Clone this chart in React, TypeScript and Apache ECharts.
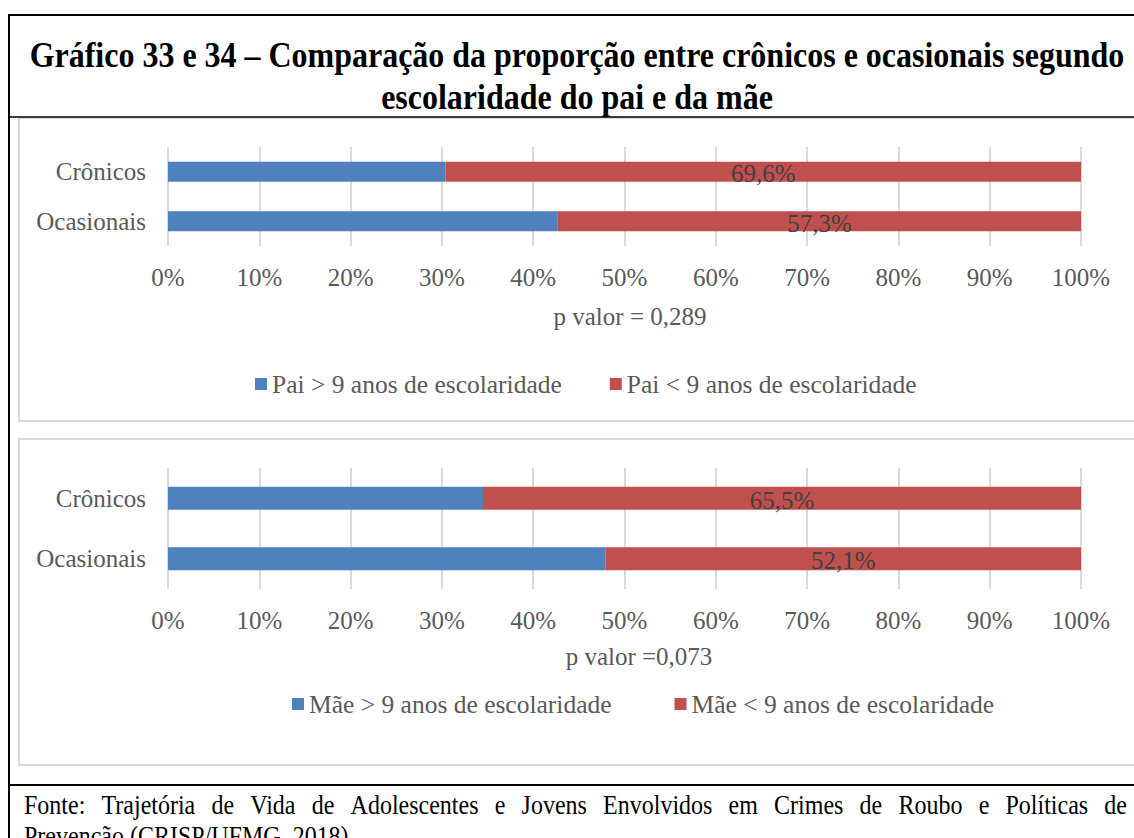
import React, { useEffect, useRef } from "react";
import * as echarts from "echarts";

const categories = ["Crônicos", "Ocasionais"];
const paiAbove = [30.4, 42.7];
const paiBelow = [69.6, 57.3];
const maeAbove = [34.5, 47.9];
const maeBelow = [65.5, 52.1];
const seriesNames = [
  "Pai > 9 anos de escolaridade",
  "Pai < 9 anos de escolaridade",
  "Mãe > 9 anos de escolaridade",
  "Mãe < 9 anos de escolaridade",
];
const titleLines = [
  "Gráfico 33 e 34 – Comparação da proporção entre crônicos e ocasionais segundo",
  "escolaridade do pai e da mãe",
];
const pValues = ["p valor = 0,289", "p valor =0,073"];
const footerLines = [
  "Fonte: Trajetória de Vida de Adolescentes e Jovens Envolvidos em Crimes de Roubo e Políticas de",
  "Prevenção (CRISP/UFMG, 2018).",
];

const BLUE = "#4F81BD";
const RED = "#C0504D";
const TXT = "#595959";
const SERIF = "'Liberation Serif', 'Times New Roman', serif";
const CHART_FONT = "'Liberation Serif', serif";
const CF = 25;
const STRETCH = 1.15;

function measure(text: string, font: string): number {
  const ctx = document.createElement("canvas").getContext("2d")!;
  ctx.font = font;
  return ctx.measureText(text).width;
}

export default function App() {
  const ref = useRef<HTMLDivElement>(null);
  useEffect(() => {
    if (!ref.current) return;
    const chart = echarts.init(ref.current, undefined, { renderer: "svg" });

    const titleTarget = 1095;
    const tw = measure(titleLines[0], `bold 28px ${SERIF}`);
    const titleSize = Math.min(32, (28 * titleTarget) / tw);

    const footSize = 24;
    const footFont = `${footSize}px ${SERIF}`;
    const words = footerLines[0].split(" ");
    const widths = words.map((w) => measure(w, footFont));
    const left = 24;
    const right = 1127;
    const sum = widths.reduce((a, b) => a + b, 0);
    const gap = Math.max(4, (right - left - sum) / (words.length - 1));
    const footerEls: any[] = [];
    let cx = left;
    words.forEach((w, i) => {
      footerEls.push({
        type: "text",
        x: cx,
        y: 805,
        scaleY: STRETCH,
        style: {
          text: w,
          fontSize: footSize,
          fontFamily: SERIF,
          fill: "#000",
          textAlign: "left",
          textVerticalAlign: "middle",
        },
      });
      cx += widths[i] + gap;
    });
    footerEls.push({
      type: "text",
      x: left,
      y: 836,
      scaleY: STRETCH,
      style: {
        text: footerLines[1],
        fontSize: footSize,
        fontFamily: SERIF,
        fill: "#000",
        textAlign: "left",
        textVerticalAlign: "middle",
      },
    });

    const labelCfg = {
      show: true,
      position: "inside",
      color: "#404040",
      fontSize: CF,
      fontFamily: CHART_FONT,
      offset: [0, 2],
      formatter: (p: any) => String(p.value).replace(".", ",") + "%",
    };

    const xAxisBase = {
      type: "value",
      min: 0,
      max: 100,
      interval: 10,
      axisLine: { show: false },
      axisTick: { show: false },
      splitLine: { show: true, lineStyle: { color: "#D9D9D9", width: 2 } },
      axisLabel: {
        formatter: "{value}%",
        color: TXT,
        fontSize: CF,
        fontFamily: CHART_FONT,
        margin: 19,
      },
    };
    const yAxisBase = {
      type: "category",
      data: categories,
      inverse: true,
      axisLine: { show: false },
      axisTick: { show: false },
      splitLine: { show: false },
      axisLabel: { color: TXT, fontSize: CF, fontFamily: CHART_FONT, margin: 22 },
    };

    const legendText = { color: TXT, fontSize: 25.5, fontFamily: CHART_FONT };
    const pStyle = { color: TXT, fontSize: CF, fontFamily: CHART_FONT, fontWeight: "normal" };

    chart.setOption({
      animation: false,
      backgroundColor: "#fff",
      title: [
        { text: pValues[0], left: 625, top: 299, textAlign: "center", textStyle: pStyle },
        { text: pValues[1], left: 634, top: 639, textAlign: "center", textStyle: pStyle },
      ],
      legend: [
        {
          data: [seriesNames[0], seriesNames[1]],
          left: 255,
          top: 371,
          padding: 0,
          itemWidth: 12,
          itemHeight: 12,
          itemGap: 48,
          icon: "rect",
          textStyle: legendText,
        },
        {
          data: [seriesNames[2], seriesNames[3]],
          left: 292,
          top: 691,
          padding: 0,
          itemWidth: 12,
          itemHeight: 12,
          itemGap: 63,
          icon: "rect",
          textStyle: legendText,
        },
      ],
      grid: [
        { left: 168, width: 913, top: 147, height: 99 },
        { left: 168, width: 913, top: 468, height: 121 },
      ],
      xAxis: [
        { ...xAxisBase, gridIndex: 0 },
        { ...xAxisBase, gridIndex: 1 },
      ],
      yAxis: [
        { ...yAxisBase, gridIndex: 0 },
        { ...yAxisBase, gridIndex: 1 },
      ],
      series: [
        {
          name: seriesNames[0],
          type: "bar",
          stack: "pai",
          xAxisIndex: 0,
          yAxisIndex: 0,
          data: paiAbove,
          barWidth: 20,
          itemStyle: { color: BLUE },
        },
        {
          name: seriesNames[1],
          type: "bar",
          stack: "pai",
          xAxisIndex: 0,
          yAxisIndex: 0,
          data: paiBelow,
          barWidth: 20,
          itemStyle: { color: RED },
          label: labelCfg,
        },
        {
          name: seriesNames[2],
          type: "bar",
          stack: "mae",
          xAxisIndex: 1,
          yAxisIndex: 1,
          data: maeAbove,
          barWidth: 23,
          itemStyle: { color: BLUE },
        },
        {
          name: seriesNames[3],
          type: "bar",
          stack: "mae",
          xAxisIndex: 1,
          yAxisIndex: 1,
          data: maeBelow,
          barWidth: 23,
          itemStyle: { color: RED },
          label: labelCfg,
        },
      ],
      graphic: [
        {
          type: "rect",
          z: 0,
          shape: { x: 19, y: 118, width: 1130, height: 303 },
          style: { fill: "none", stroke: "#D9D9D9", lineWidth: 2 },
        },
        {
          type: "rect",
          z: 0,
          shape: { x: 19, y: 439, width: 1130, height: 326 },
          style: { fill: "none", stroke: "#D9D9D9", lineWidth: 2 },
        },
        { type: "line", shape: { x1: 9, y1: 15, x2: 1140, y2: 15 }, style: { stroke: "#000", lineWidth: 2 } },
        { type: "line", shape: { x1: 9, y1: 14, x2: 9, y2: 840 }, style: { stroke: "#000", lineWidth: 2 } },
        { type: "line", shape: { x1: 9, y1: 117, x2: 1140, y2: 117 }, style: { stroke: "#000", lineWidth: 1.5 } },
        { type: "line", shape: { x1: 9, y1: 785, x2: 1140, y2: 785 }, style: { stroke: "#000", lineWidth: 2 } },
        {
          type: "text",
          x: 577,
          y: 54,
          scaleY: STRETCH,
          style: {
            text: titleLines[0],
            fontSize: titleSize,
            fontWeight: "bold",
            fontFamily: SERIF,
            fill: "#000",
            textAlign: "center",
            textVerticalAlign: "middle",
          },
        },
        {
          type: "text",
          x: 577,
          y: 96,
          scaleY: STRETCH,
          style: {
            text: titleLines[1],
            fontSize: titleSize,
            fontWeight: "bold",
            fontFamily: SERIF,
            fill: "#000",
            textAlign: "center",
            textVerticalAlign: "middle",
          },
        },
        ...footerEls,
      ],
    });
    return () => chart.dispose();
  }, []);
  return (
    <div
      ref={ref}
      style={{ position: "absolute", left: 0, top: 0, width: 1134, height: 838, background: "#fff" }}
    />
  );
}
